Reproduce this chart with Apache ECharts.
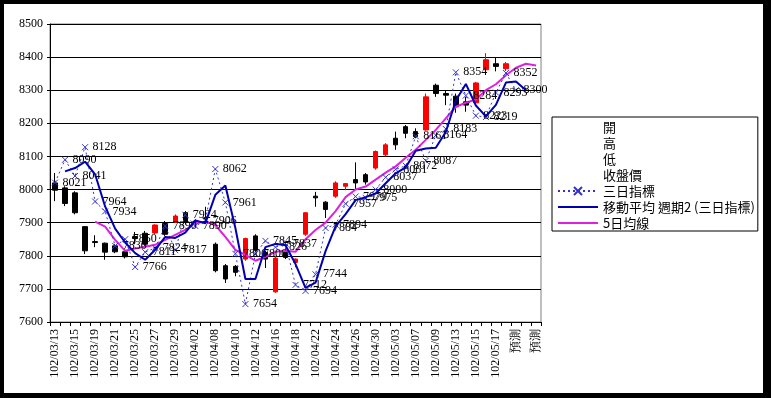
<!DOCTYPE html>
<html>
<head>
<meta charset="utf-8">
<script src="https://cdn.jsdelivr.net/npm/echarts@6/dist/echarts.min.js"></script>
<style>
html, body { margin: 0; padding: 0; background: #000; }
#wrap { position: relative; width: 771px; height: 398px; background: #000; }
#paper { position: absolute; left: 4px; top: 4px; width: 759px; height: 389px; background: #fff; }
#main { position: absolute; left: 0; top: 0; width: 771px; height: 398px; }
</style>
</head>
<body>
<div id="wrap"><div id="paper"></div><div id="main"></div></div>
<script>
// 日期 (最後三格為預測)
var dates = ['102/03/13','102/03/14','102/03/15','102/03/18','102/03/19','102/03/20','102/03/21','102/03/22','102/03/25','102/03/26',
    '102/03/27','102/03/28','102/03/29','102/04/01','102/04/02','102/04/03','102/04/08','102/04/09','102/04/10','102/04/11',
    '102/04/12','102/04/15','102/04/16','102/04/17','102/04/18','102/04/19','102/04/22','102/04/23','102/04/24','102/04/25',
    '102/04/26','102/04/29','102/04/30','102/05/02','102/05/03','102/05/06','102/05/07','102/05/08','102/05/09','102/05/10',
    '102/05/13','102/05/14','102/05/15','102/05/16','102/05/17','102/05/20','預測','預測','預測'];

// 開 高 低 收
var opens  = [8020,8005,7990,7888,7843,7838,7830,7812,7858,7868, 7869,7900,7902,7930,7905,7915,7835,7770,7768,7790,
    7860,7810,7691,7810,7780,7865,7980,7962,7980,8010, 8030,8045,8065,8105,8155,8190,8175,8180,8315,8290,
    8282,8265,8262,8362,8380,8365];
var highs  = [8050,8010,7995,7890,7862,7840,7835,7818,7872,7875, 7895,7905,7925,7935,7910,7948,7840,7775,7772,7855,
    7865,7815,7800,7815,7792,7932,7993,7965,8025,8020, 8082,8050,8118,8140,8175,8195,8185,8290,8320,8300,
    8290,8280,8325,8412,8400,8385];
var lows   = [7965,7950,7925,7805,7826,7788,7808,7792,7835,7830, 7865,7860,7900,7895,7895,7900,7750,7718,7738,7785,
    7812,7763,7688,7790,7765,7860,7948,7914,7975,7998, 8000,8015,8060,8100,8120,8155,8155,8178,8280,8255,
    8232,8235,8260,8360,8357,8358];
var closes = [7998,7958,7930,7815,7840,7811,7812,7797,7852,7835, 7893,7865,7920,7902,7900,7912,7755,7730,7750,7852,
    7817,7790,7793,7795,7790,7930,7975,7940,8020,8018, 8020,8023,8115,8135,8135,8170,8160,8280,8290,8285,
    8250,8255,8322,8392,8372,8380];

// 三日指標
var triIndex = [8021,8090,8041,8128,7964,7934,7830,7850,7766,7811, 7824,7890,7817,7924,7890,7906,8062,7961,7806,7654,
    7806,7845,7826,7837,7712,7694,7744,7884,7894,7957, 7979,7975,8000,8037,8061,8072,8161,8087,8164,8183,
    8354,8284,8223,8219,8293,8352,8300,null,null];

// 移動平均 週期2 (三日指標)
var triMa2 = [null,8055,8065,8084,8046,7949,7882,7840,7808,7788, 7818,7857,7854,7870,7907,7898,7984,8012,7884,7730,
    7730,7826,7836,7832,7775,7703,7719,7814,7889,7926, 7968,7977,7988,8019,8049,8067,8117,8124,8126,8174,
    8269,8319,8254,8221,8256,8323,8326,8300,null];

// 5日均線
var ma5 = [null,null,null,null,7903,7888,7848,7815,7822,7827, 7833,7848,7863,7878,7899,7903,7893,7857,7818,7803,
    7785,7797,7812,7815,7812,7850,7878,7900,7935,7977, 8000,8009,8030,8051,8070,8096,8120,8150,8180,8215,
    8250,8262,8272,8300,8318,8345,8368,8380,8375];

var yTicks = [7600, 8500, 100];

var kData = opens.map(function (o, i) {
    return [o, closes[i], lows[i], highs[i]];
});

var serif = 'Liberation Serif';
var cjk = 'Noto Sans CJK TC';

var hidden = function (name, data) {
    return {
        name: name, type: 'line', data: data, symbol: 'none', silent: true,
        lineStyle: { opacity: 0 }, z: 0
    };
};

var chart = echarts.init(document.getElementById('main'));
chart.setOption({
    animation: false,
    backgroundColor: 'transparent',
    grid: {
        left: 50, top: 24, width: 491, height: 298,
        show: true, borderColor: '#808080', borderWidth: 1
    },
    legend: {
        orient: 'vertical',
        left: 552, top: 117,
        backgroundColor: '#fff',
        borderColor: '#000', borderWidth: 1, borderRadius: 0,
        padding: [2, 3, 0, 5],
        itemGap: 0,
        itemWidth: 40, itemHeight: 10,
        selectedMode: false,
        textStyle: { fontFamily: cjk, fontSize: 13, color: '#000', lineHeight: 16 },
        data: [
            { name: '開', itemStyle: { opacity: 0 } },
            { name: '高', itemStyle: { opacity: 0 } },
            { name: '低', itemStyle: { opacity: 0 } },
            { name: '收盤價', itemStyle: { opacity: 0 } },
            '三日指標',
            { name: '移動平均 週期2 (三日指標)', itemStyle: { opacity: 0 } },
            { name: '5日均線', itemStyle: { opacity: 0 } }
        ]
    },
    xAxis: {
        type: 'category',
        data: dates,
        boundaryGap: true,
        axisLine: { lineStyle: { color: '#000', width: 1 } },
        axisTick: { show: true, interval: 0, length: 4, lineStyle: { color: '#000' } },
        axisLabel: {
            interval: 1, rotate: 90, margin: 7,
            fontFamily: serif, fontSize: 12, color: '#000'
        },
        splitLine: { show: false }
    },
    yAxis: {
        type: 'value',
        min: yTicks[0], max: yTicks[1], interval: yTicks[2],
        axisLine: { show: true, lineStyle: { color: '#000' } },
        axisTick: { show: true, length: 3, lineStyle: { color: '#000' } },
        axisLabel: {
            margin: 7, fontFamily: serif, fontSize: 12, color: '#000',
            formatter: function (v) { return String(v); }
        },
        splitLine: { show: true, lineStyle: { color: '#000', width: 1 } }
    },
    series: [
        hidden('開', opens),
        hidden('高', highs),
        hidden('低', lows),
        hidden('收盤價', closes),
        {
            name: 'K',
            type: 'candlestick',
            data: kData,
            barWidth: 5,
            itemStyle: {
                color: '#ff0000', color0: '#000000',
                borderColor: '#ff0000', borderColor0: '#000000', borderWidth: 1
            },
            z: 3
        },
        {
            name: '5日均線',
            type: 'line',
            data: ma5,
            symbol: 'none',
            lineStyle: { color: '#e020e0', width: 2 },
            itemStyle: { color: '#e020e0' },
            z: 4
        },
        {
            name: '三日指標',
            type: 'line',
            data: triIndex,
            symbol: 'path://M0,0L10,10M10,0L0,10',
            symbolSize: 6,
            showAllSymbol: true,
            lineStyle: { color: '#3333cc', width: 1, type: [2, 3] },
            itemStyle: { color: '#3333cc', borderColor: '#3333cc', borderWidth: 1 },
            label: {
                show: true, position: 'right', distance: 4,
                fontFamily: serif, fontSize: 12, color: '#000'
            },
            z: 5
        },
        {
            name: '移動平均 週期2 (三日指標)',
            type: 'line',
            data: triMa2,
            symbol: 'none',
            lineStyle: { color: '#0000b0', width: 2 },
            itemStyle: { color: '#0000b0' },
            z: 6
        }
    ]
});
</script>
</body>
</html>
